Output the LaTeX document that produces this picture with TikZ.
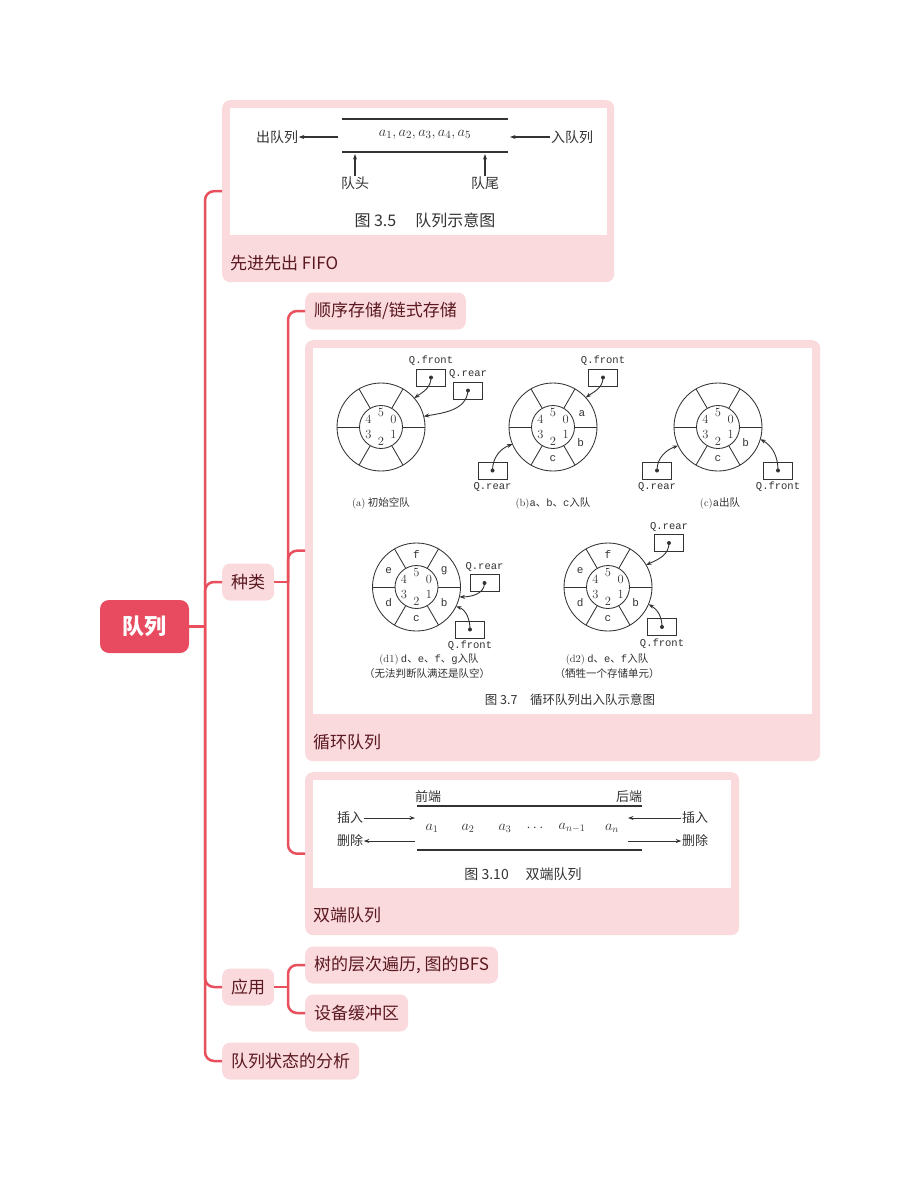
\documentclass[tikz,border=0pt]{standalone}
\usepackage{fontspec}
\newfontfamily\cjk{Noto Sans CJK SC}
\newfontfamily\mono{Liberation Mono}
\usetikzlibrary{arrows.meta,calc}
\definecolor{ln}{HTML}{E8505E}
\definecolor{rootc}{HTML}{E84B5F}
\definecolor{pk}{HTML}{FADADD}
\definecolor{tx}{HTML}{5A1820}
\definecolor{fg}{HTML}{333333}
\newcommand\m[1]{{\mono #1}}
\newcommand\qring[1]{%
  \draw[fl] (#1) circle[radius=44pt];
  \draw[fl] (#1) circle[radius=21.5pt];
  \foreach \ang in {0,60,...,300} \draw[fl] ($(#1)+(\ang:21.5pt)$) -- ($(#1)+(\ang:44pt)$);
  \foreach \ang/\num in {90/5,30/0,-30/1,-90/2,210/3,150/4} \node[digitlbl] at ($(#1)+(\ang:14.5pt)$) {\num};
}
\newcommand\qlet[3]{\node[sectorlbl] at ($(#1)+(#2:32pt)$) {#3};}
\begin{document}
\begin{tikzpicture}[x=1pt,y=-1pt,
  conn/.style={draw=ln, line width=2.5pt, rounded corners=9pt},
  topic/.style={fill=pk, rounded corners=8pt, text=tx, font=\cjk\fontsize{17}{20}\selectfont, inner xsep=9pt, inner ysep=0pt, minimum height=37pt, anchor=west},
  plabel/.style={text=tx, font=\cjk\fontsize{17}{20}\selectfont, inner sep=0pt, anchor=west},
  rootbox/.style={fill=rootc, rounded corners=9pt, minimum width=89pt, minimum height=53pt, text=white, font=\cjk\bfseries\fontsize{22}{26}\selectfont},
  panel/.style={fill=pk, rounded corners=8pt, anchor=north west, inner sep=0pt},
  shot/.style={fill=white, anchor=north west, inner sep=0pt},
  fl/.style={draw=fg, line width=0.85pt},
  farr/.style={draw=fg, line width=0.9pt, -{Stealth[length=5.5pt,width=4pt]}},
  ft/.style={text=fg, inner sep=0.5pt},
  ptr/.style={draw=fg, line width=0.85pt, minimum width=29pt, minimum height=17pt, inner sep=0pt},
  ql/.style={text=fg, font=\mono\fontsize{10.5}{12}\selectfont, inner sep=0.5pt},
  digitlbl/.style={text=fg, font=\rmfamily\fontsize{12.5}{13}\selectfont, inner sep=0pt},
  sectorlbl/.style={text=fg, font=\mono\fontsize{11}{12}\selectfont, inner sep=0pt},
  subcap/.style={text=fg, font=\cjk\fontsize{10.5}{12}\selectfont, inner sep=0pt},
]
\useasboundingbox[fill=white] (0,0) rectangle (920,1181);

% ---------- mind map nodes ----------
\node[rootbox] (root) at (144.5,626.5) {队列};

\node[panel, minimum width=392pt, minimum height=182pt] (p1) at (222,100) {};
\node[shot, minimum width=377pt, minimum height=127pt] (s1) at (230,108) {};
\node[plabel] (l1) at (230,263) {先进先出 FIFO};

\node[topic] (kind) at (222,582) {种类};
\node[topic] (app) at (222,987) {应用};
\node[topic] (ana) at (222,1061) {队列状态的分析};

\node[topic] (seq) at (305,311) {顺序存储/链式存储};
\node[panel, minimum width=515pt, minimum height=421pt] (p2) at (305,340) {};
\node[shot, minimum width=499pt, minimum height=366pt] (s2) at (313,348) {};
\node[plabel] (l2) at (313,742) {循环队列};

\node[panel, minimum width=434pt, minimum height=163pt] (p3) at (305,772) {};
\node[shot, minimum width=418pt, minimum height=108pt] (s3) at (313,780) {};
\node[plabel] (l3) at (313,915) {双端队列};

\node[topic] (bfs) at (305,965) {树的层次遍历, 图的BFS};
\node[topic] (buf) at (305,1013) {设备缓冲区};

% ---------- connectors ----------
\coordinate (j0) at (205,626.5);
\coordinate (j1) at (288,582);
\coordinate (j2) at (288,987);
\draw[conn] (root.east) -- (j0);
\foreach \c in {p1,kind,app,ana} \draw[conn] (j0) |- (\c.west);
\draw[conn] (kind.east) -- (j1);
\foreach \c in {seq,p2,p3} \draw[conn] (j1) |- (\c.west);
\draw[conn] (app.east) -- (j2);
\foreach \c in {bfs,buf} \draw[conn] (j2) |- (\c.west);

% ---------- figure 3.5 ----------
\draw[fl, line width=1.4pt] (342,119) -- (508,119);
\draw[fl, line width=1.4pt] (342,152) -- (508,152);
\node[ft, font=\fontsize{15.5}{17}\selectfont] (elems) at (425,135) {$a_1, a_2, a_3, a_4, a_5$};
\node[ft, font=\cjk\fontsize{14}{16}\selectfont] (deq) at (277,137) {出队列};
\node[ft, font=\cjk\fontsize{14}{16}\selectfont] (enq) at (572,137) {入队列};
\draw[farr, line width=1.1pt] (338,137) -- (deq.east);
\draw[farr, line width=1.1pt] (enq.west) -- (510,137);
\node[ft, font=\cjk\fontsize{14}{16}\selectfont] (head) at (355,183) {队头};
\node[ft, font=\cjk\fontsize{14}{16}\selectfont] (tail) at (485,183) {队尾};
\draw[farr, line width=1.1pt] (head.north) -- (355,154);
\draw[farr, line width=1.1pt] (tail.north) -- (485,154);
\node[ft, font=\cjk\fontsize{16}{18}\selectfont] (c35) at (425,220) {图 3.5\hspace{1.2em}队列示意图};

% ---------- figure 3.7 ----------
\coordinate (ca) at (381,427);
\coordinate (cb) at (553,427);
\coordinate (cc) at (718,427);
\coordinate (cd) at (416.5,587);
\coordinate (ce) at (608,587);
\qring{ca} \qring{cb} \qring{cc} \qring{cd} \qring{ce}
\qlet{cb}{25}{a} \qlet{cb}{-30}{b} \qlet{cb}{-90}{c}
\qlet{cc}{-30}{b} \qlet{cc}{-90}{c}
\qlet{cd}{90}{f} \qlet{cd}{30}{g} \qlet{cd}{150}{e} \qlet{cd}{210}{d} \qlet{cd}{-90}{c} \qlet{cd}{-30}{b}
\qlet{ce}{90}{f} \qlet{ce}{150}{e} \qlet{ce}{210}{d} \qlet{ce}{-90}{c} \qlet{ce}{-30}{b}

% (a)
\node[ptr] (af) at (431,377.5) {}; \fill[fg] (af.center) circle[radius=2pt];
\node[ql, above=2pt] at (af.north) {Q.front};
\draw[farr] (af.center) to[out=-90,in=35] ($(ca)+(41:44pt)$);
\node[ptr] (ar) at (468,390.5) {}; \fill[fg] (ar.center) circle[radius=2pt];
\node[ql, above=2pt] at (ar.north) {Q.rear};
\draw[farr] (ar.center) to[out=-95,in=10] ($(ca)+(14:44pt)$);
\node[subcap] at (381,503) {{\rmfamily (a)} 初始空队};
% (b)
\node[ptr] (bf) at (603,377.5) {}; \fill[fg] (bf.center) circle[radius=2pt];
\node[ql, above=2pt] at (bf.north) {Q.front};
\draw[farr] (bf.center) to[out=-90,in=35] ($(cb)+(42:44pt)$);
\node[ptr] (br) at (492.5,470.5) {}; \fill[fg] (br.center) circle[radius=2pt];
\node[ql, below=2pt] at (br.south) {Q.rear};
\draw[farr] (br.center) to[out=90,in=200] ($(cb)+(203:44pt)$);
\node[subcap] at (553,503) {{\rmfamily (b)}\m{a}、\m{b}、\m{c}入队};
% (c)
\node[ptr] (cr) at (657,470.5) {}; \fill[fg] (cr.center) circle[radius=2pt];
\node[ql, below=2pt] at (cr.south) {Q.rear};
\draw[farr] (cr.center) to[out=90,in=200] ($(cc)+(205:44pt)$);
\node[ptr] (cf) at (778,470.5) {}; \fill[fg] (cf.center) circle[radius=2pt];
\node[ql, below=2pt] at (cf.south) {Q.front};
\draw[farr] (cf.center) to[out=90,in=-30] ($(cc)+(-16:44pt)$);
\node[subcap] at (720,503) {{\rmfamily (c)}\m{a}出队};
% (d1)
\node[ptr] (dr) at (484.5,583) {}; \fill[fg] (dr.center) circle[radius=2pt];
\node[ql, above=2pt] at (dr.north) {Q.rear};
\draw[farr] (dr.center) to[out=-90,in=0] ($(cd)+(-13:44pt)$);
\node[ptr] (df) at (470,629.5) {}; \fill[fg] (df.center) circle[radius=2pt];
\node[ql, below=2pt] at (df.south) {Q.front};
\draw[farr] (df.center) to[out=90,in=-20] ($(cd)+(-26:44pt)$);
\node[subcap] at (429,659) {{\rmfamily (d1)} \m{d}、\m{e}、\m{f}、\m{g}入队};
\node[subcap] at (427,674) {（无法判断队满还是队空）};
% (d2)
\node[ptr] (er) at (669,543) {}; \fill[fg] (er.center) circle[radius=2pt];
\node[ql, above=2pt] at (er.north) {Q.rear};
\draw[farr] (er.center) to[out=-90,in=25] ($(ce)+(30:44pt)$);
\node[ptr] (ef) at (662,627) {}; \fill[fg] (ef.center) circle[radius=2pt];
\node[ql, below=2pt] at (ef.south) {Q.front};
\draw[farr] (ef.center) to[out=90,in=-30] ($(ce)+(-23:44pt)$);
\node[subcap] at (607,659) {{\rmfamily (d2)} \m{d}、\m{e}、\m{f}入队};
\node[subcap] at (607,674) {（牺牲一个存储单元）};
\node[ft, font=\cjk\fontsize{12.5}{14}\selectfont] (c37) at (570,700) {图 3.7\hspace{1em}循环队列出入队示意图};

% ---------- figure 3.10 ----------
\draw[fl, line width=1.3pt] (417,806) -- (642,806);
\draw[fl, line width=1.3pt] (417,850) -- (642,850);
\node[ft, font=\cjk\fontsize{13}{15}\selectfont] (fr) at (428,797) {前端};
\node[ft, font=\cjk\fontsize{13}{15}\selectfont] (bk) at (629,797) {后端};
\node[ft, font=\cjk\fontsize{13}{15}\selectfont] (insL) at (350,818) {插入};
\node[ft, font=\cjk\fontsize{13}{15}\selectfont] (delL) at (350,841) {删除};
\node[ft, font=\cjk\fontsize{13}{15}\selectfont] (insR) at (695,818) {插入};
\node[ft, font=\cjk\fontsize{13}{15}\selectfont] (delR) at (695,841) {删除};
\draw[farr] (insL.east) -- (415,818);
\draw[farr] (415,841) -- (delL.east);
\draw[farr] (insR.west) -- (628,818);
\draw[farr] (628,841) -- (delR.west);
\foreach \xx/\lbl in {432/a_1,468/a_2,505/a_3,535/\cdots,572/a_{n-1},612/a_n}
  \node[ft, font=\fontsize{14.5}{16}\selectfont] at (\xx,828) {$\lbl$};
\node[ft, font=\cjk\fontsize{14}{16}\selectfont] (c310) at (523,874) {图 3.10\hspace{1.2em}双端队列};
\end{tikzpicture}
\end{document}
